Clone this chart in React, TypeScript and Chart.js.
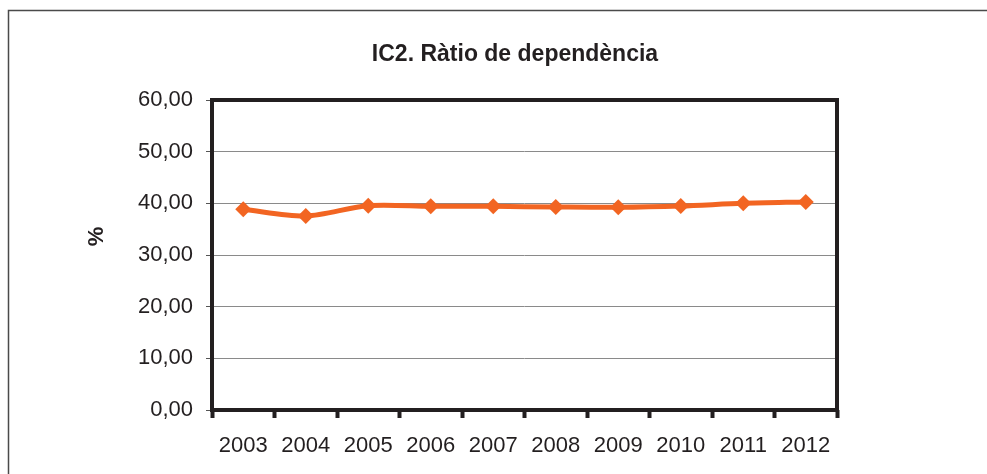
import React, { useEffect, useRef } from "react";
import { Chart, registerables } from "chart.js";

Chart.register(...registerables);

const years = ["2003", "2004", "2005", "2006", "2007", "2008", "2009", "2010", "2011", "2012"];
const ratio = [38.85, 37.55, 39.54, 39.42, 39.42, 39.29, 39.23, 39.48, 40.0, 40.26];
const chartTitle = "IC2. Ràtio de dependència";
const yAxisLabel = "%";
const yMin = 0;
const yMax = 60;
const yStep = 10;

const INK = "#231f20";
const ORANGE = "#F26522";

const decor = {
  id: "decor",
  beforeDraw(chart: any) {
    const { ctx, width, height } = chart;
    ctx.save();
    ctx.fillStyle = "#ffffff";
    ctx.fillRect(0, 0, width, height);
    ctx.strokeStyle = "#4a4a4a";
    ctx.lineWidth = 1.5;
    ctx.beginPath();
    ctx.moveTo(8.5, height + 2);
    ctx.lineTo(8.5, 10.5);
    ctx.lineTo(width + 2, 10.5);
    ctx.stroke();
    ctx.restore();
  },
  afterDraw(chart: any) {
    const { ctx, chartArea } = chart;
    const { left, right, top, bottom } = chartArea;
    ctx.save();
    ctx.strokeStyle = INK;
    ctx.lineWidth = 4;
    ctx.strokeRect(left, top, right - left, bottom - top);

    ctx.fillStyle = INK;
    ctx.font = "bold 23px Arial, 'Liberation Sans', sans-serif";
    ctx.textAlign = "center";
    ctx.textBaseline = "alphabetic";
    ctx.fillText(chartTitle, 515, 61);

    ctx.translate(102.5, 236.5);
    ctx.rotate(-Math.PI / 2);
    ctx.font = "bold 22px Arial, 'Liberation Sans', sans-serif";
    ctx.fillText(yAxisLabel, 0, 0);
    ctx.restore();
  },
};

export default function App() {
  const ref = useRef<HTMLCanvasElement | null>(null);

  useEffect(() => {
    if (!ref.current) return;
    const font = { family: "Arial, 'Liberation Sans', sans-serif", size: 22 };
    const chart = new Chart(ref.current, {
      type: "line",
      data: {
        labels: years,
        datasets: [
          {
            data: ratio,
            borderColor: ORANGE,
            backgroundColor: ORANGE,
            borderWidth: 5,
            tension: 0.3,
            pointStyle: "rectRot",
            pointRadius: 8,
            pointHoverRadius: 8,
            pointBackgroundColor: ORANGE,
            pointBorderColor: ORANGE,
            pointBorderWidth: 0,
          },
        ],
      },
      options: {
        animation: false,
        responsive: true,
        maintainAspectRatio: false,
        devicePixelRatio: 1,
        layout: { padding: { left: 0, right: 150, top: 100, bottom: 0 } },
        plugins: {
          legend: { display: false },
          title: { display: false },
          tooltip: { enabled: false },
        },
        scales: {
          x: {
            type: "category",
            offset: true,
            border: { display: false },
            grid: {
              offset: true,
              drawOnChartArea: false,
              drawTicks: true,
              tickLength: 8,
              tickWidth: 4,
              tickColor: INK,
            },
            ticks: { color: INK, font, padding: 15, maxRotation: 0, autoSkip: false },
            afterFit(scale: any) {
              scale.height = 64;
            },
          },
          y: {
            min: yMin,
            max: yMax,
            border: { display: false },
            grid: {
              color: "#8a8a8a",
              lineWidth: 1,
              drawTicks: true,
              tickLength: 6,
              tickColor: "#555555",
            },
            ticks: {
              stepSize: yStep,
              color: INK,
              font,
              padding: 13,
              callback: (v: any) => Number(v).toFixed(2).replace(".", ","),
            },
            afterFit(scale: any) {
              scale.width = 212;
            },
          },
        },
      },
      plugins: [decor],
    } as any);
    return () => chart.destroy();
  }, []);

  return (
    <div style={{ position: "fixed", left: 0, top: 0, width: 987, height: 474, background: "#fff" }}>
      <canvas ref={ref} />
    </div>
  );
}
